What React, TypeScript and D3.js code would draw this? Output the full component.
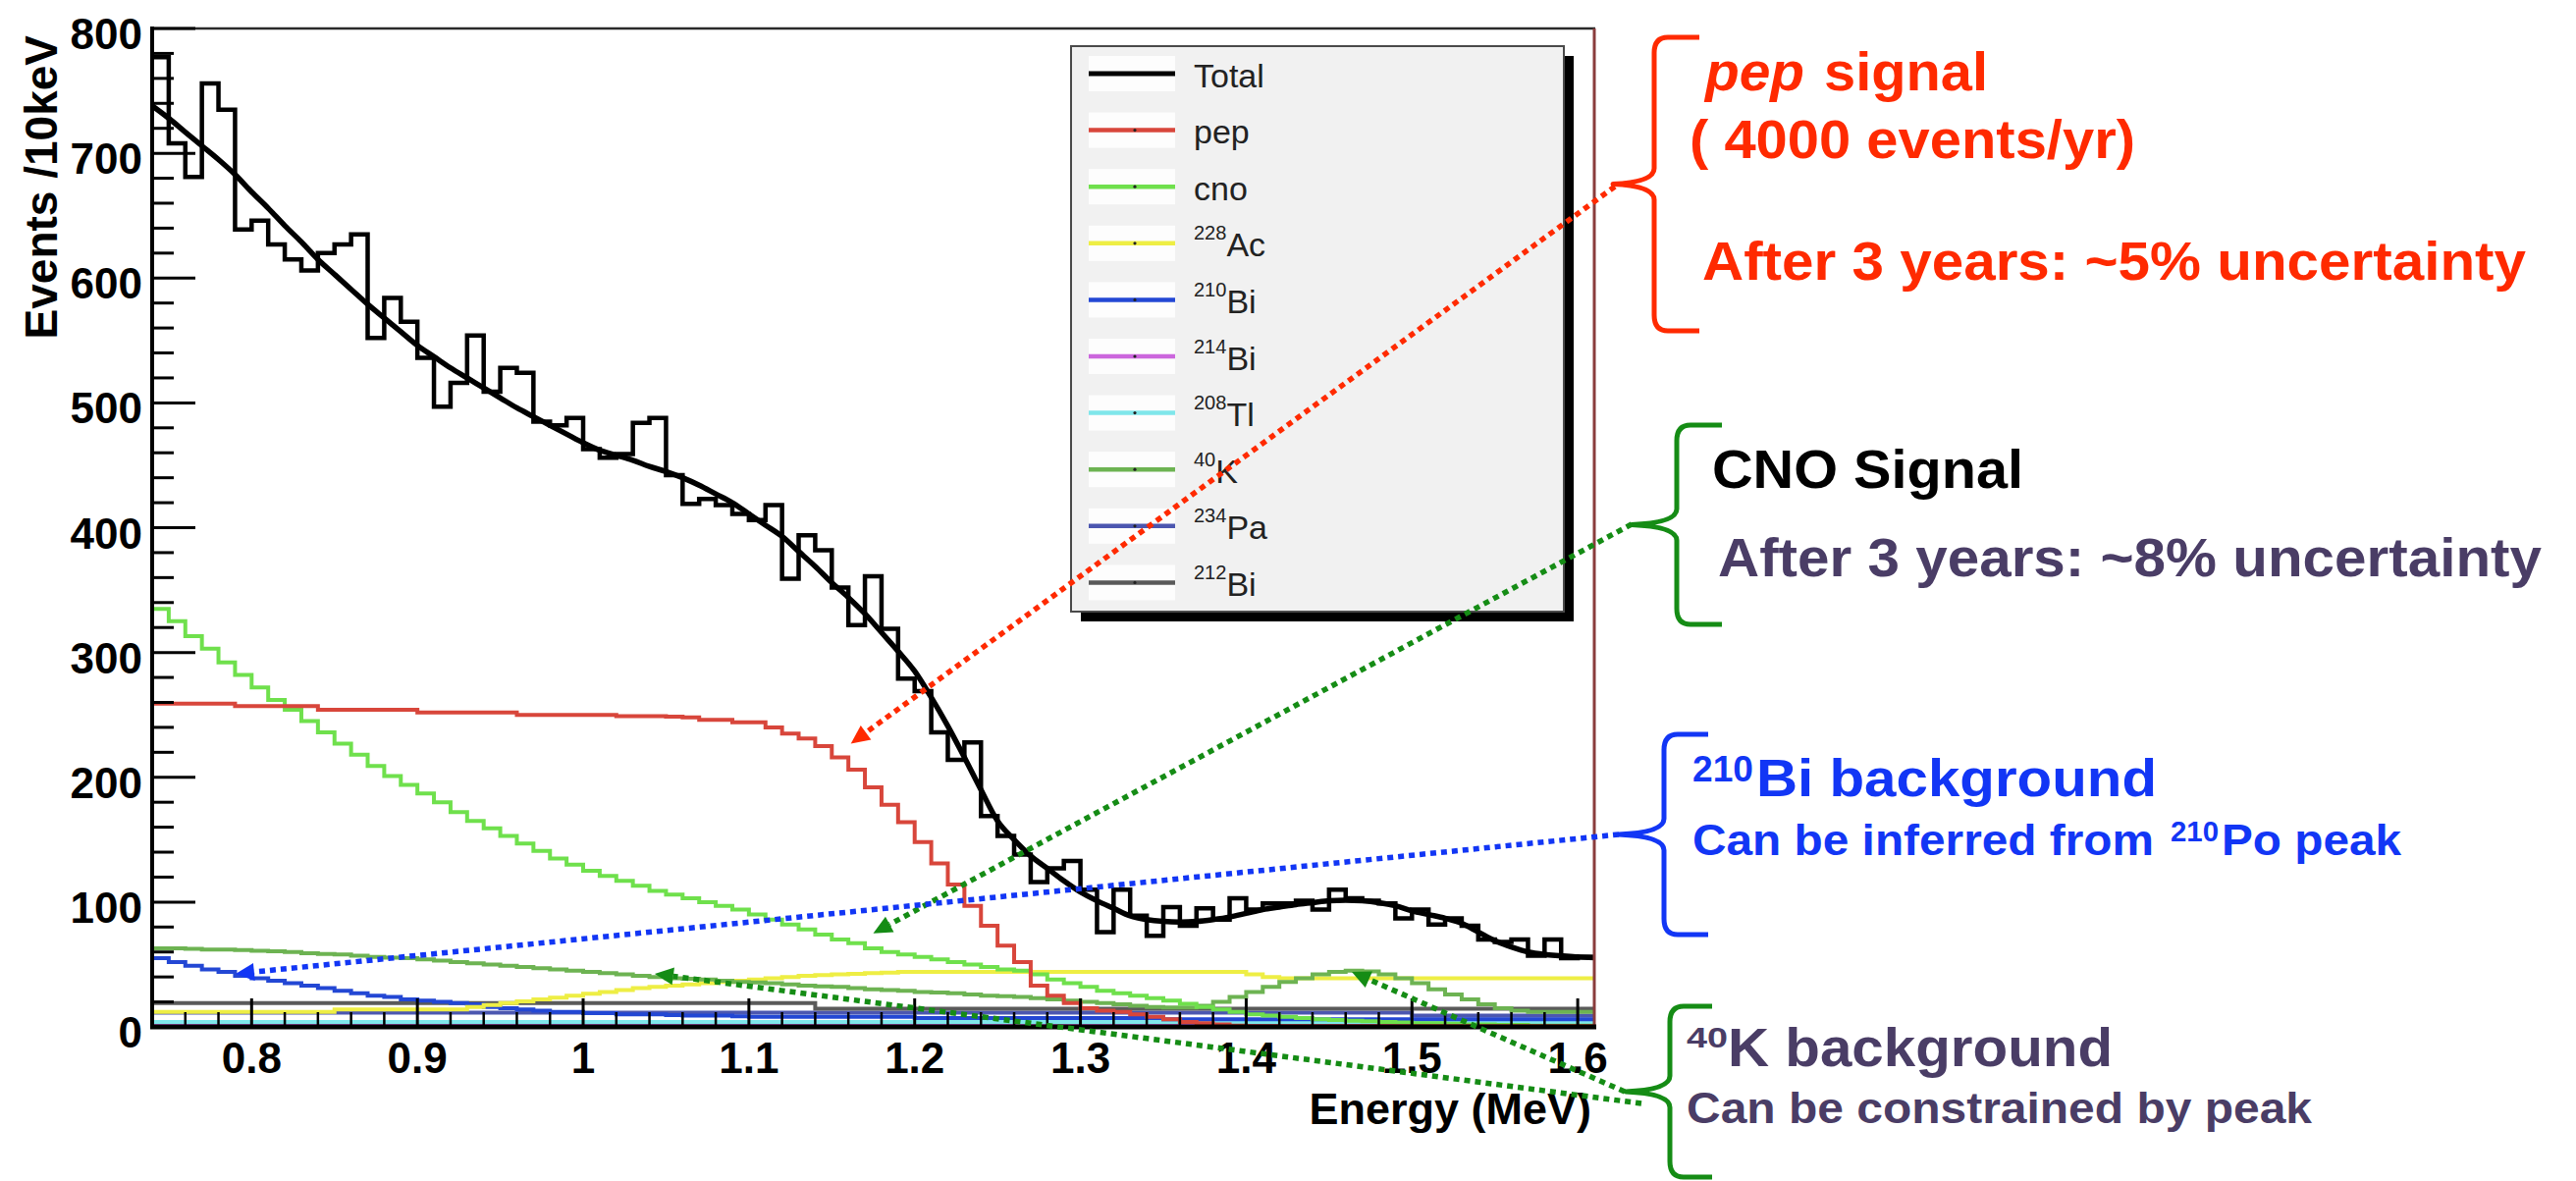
import React from "react";
import * as d3 from "d3";

const FONT = "'Liberation Sans', Arial, Helvetica, sans-serif";
const NARROW = "'Liberation Sans Narrow', 'Liberation Sans', Arial, sans-serif";

// histogram binning: 10 keV bins starting at 0.74 MeV
const BIN_START = 0.74;
const BIN_WIDTH = 0.01;

// simulated data (black histogram), 87 bins
const dataCounts = [
  777, 708, 681, 756, 735, 639, 646, 627, 615, 606,
  620, 627, 635, 552, 584, 565, 536, 497, 516, 554,
  509, 528, 524, 485, 482, 488, 463, 456, 459, 484,
  488, 442, 419, 423, 418, 411, 406, 418, 359, 394,
  382, 352, 322, 361, 319, 279, 269, 236, 214, 228,
  169, 153, 138, 116, 127, 133, 110, 76, 110, 89,
  73, 96, 81, 95, 86, 103, 94, 99, 99, 101,
  94, 110, 103, 101, 99, 87, 94, 82, 87, 81,
  70, 68, 70, 57, 70, 55, 56,
];

// total fit, sampled at 0.74, 0.75, ... 1.61
const totalFit = [
  738, 728, 717, 706, 695, 683, 669, 656, 642, 629,
  615, 603, 591, 579, 568, 557, 546, 537, 528, 520,
  512, 504, 496, 489, 482, 475, 468, 462, 458, 454,
  449, 445, 440, 434, 427, 420, 411, 402, 393, 381,
  369, 356, 344, 331, 316, 301, 285, 264, 241, 216,
  190, 165, 150, 137, 127, 117, 108, 101, 95, 89,
  86, 84.5, 84, 84.5, 86, 88, 91, 94, 96, 98,
  99.5, 101, 101.5, 101, 99.5, 97, 93, 90, 87, 83,
  76, 69, 64, 60, 58, 57, 56, 55.5,
];

const pepBins = [
  259, 259, 259, 259, 259, 257, 257, 257, 257, 257,
  254, 254, 254, 254, 254, 254, 252, 252, 252, 252,
  252, 252, 250, 250, 250, 250, 250, 250, 249, 249,
  249, 248.5, 248, 246, 246, 244, 244, 240, 235, 231,
  225, 216, 206, 192, 178, 164, 148, 131, 114, 97,
  81, 65, 52, 33, 25, 19, 15, 13, 12, 10,
  8, 6, 4, 3, 2, 1, 0.5, 0.5, 0.5, 0.5,
  0.5, 0.5, 0.5, 0.5, 0.5, 0.5, 0.5, 0.5, 0.5, 0.5,
  0.5, 0.5, 0.5, 0.5, 0.5, 0.5, 0.5,
];

const cnoBins = [
  335, 325, 313, 303, 292, 282, 272, 262, 254, 245,
  236, 227, 218, 209, 201, 194, 187, 180, 172, 165,
  159, 153, 147, 141, 135, 130, 125, 121, 117, 113,
  109, 106, 103, 100, 97, 94, 90, 86, 82, 78,
  74, 70, 67, 63, 60, 58, 56, 54, 52, 50,
  48, 46, 45, 42, 38, 35, 32, 29, 27, 25,
  23, 21, 18.5, 16, 14, 12, 10, 9, 8, 7,
  6, 5.5, 5, 4.5, 4, 3.5, 3, 3, 2.5, 2,
  2, 1.5, 1.5, 1, 1, 1, 1,
];

const k40Bins = [
  63, 63, 62.5, 62, 62, 61.5, 61, 60.5, 60, 59,
  58.5, 58, 57, 56, 55.5, 55, 54, 53, 52, 51,
  50, 49, 48, 47, 46, 45, 44, 43, 42, 41,
  40, 39, 38.5, 38, 37, 36, 35.5, 35, 34, 33,
  32.5, 32, 31, 30, 29.5, 29, 28, 27.5, 27, 26,
  25, 24.5, 24, 23, 22, 21, 20, 19, 18, 17,
  16, 15.5, 15.5, 17, 20, 24, 28, 32, 36, 39,
  42, 44, 45, 44.5, 42, 39, 35, 30, 26, 22,
  18, 15, 13, 12, 12, 12, 12,
];

const ac228Bins = [
  12, 12, 12, 12, 12, 12, 12, 12, 12, 12,
  12, 14, 14, 14, 14, 14, 14, 14, 14, 16,
  17.5, 19, 20.5, 22, 23.5, 25, 26.5, 28, 29.5, 31,
  32, 33, 34, 35, 36, 37, 38, 39, 40, 41,
  41.5, 42, 42.5, 43, 43.5, 44, 44, 44, 44, 44,
  44, 44, 44, 44, 44, 44, 44, 44, 44, 44,
  44, 44, 44, 44, 44, 44, 42, 40, 39, 39,
  39, 39, 39, 39, 39, 39, 39, 39, 39, 39,
  39, 39, 39, 39, 39, 39, 39,
];

const bi210Bins = [
  55, 52, 49, 46, 44, 41, 39, 37, 35, 33,
  31, 29, 27, 25, 24, 22, 21, 20, 19, 18,
  16, 15, 14, 13, 12, 12, 11, 11, 10, 10,
  10, 9.5, 9, 9, 9, 8.5, 8, 8, 8, 8,
  8, 8, 8, 8, 8, 8, 7, 7, 7, 7,
  7, 7, 7, 7, 7, 7, 7, 7, 7, 7,
  7, 6, 6, 6, 6, 6, 6, 6, 6, 6,
  6, 6, 6, 6, 6, 6, 6, 6, 6, 6,
  6, 6, 6, 6, 6, 6, 6,
];

const bi214Bins = [
  1, 1, 1, 1, 1, 1, 1, 1, 1, 1,
  1, 1, 1, 1, 1, 1, 1, 1, 1, 1,
  1, 1, 1, 1, 1, 1, 1, 1, 1, 1,
  1, 1, 1, 1, 1, 1, 1, 1, 1, 1,
  1, 1, 1, 1, 1, 1, 1, 1, 1, 1,
  1, 1, 1, 1, 1, 1, 1, 1, 1, 1,
  1, 1, 1, 1, 1, 1, 1, 1, 1, 1,
  1, 1, 1, 1, 1, 1, 1, 1, 1, 1,
  1, 1, 1, 1, 1, 1, 1,
];

const tl208Bins = [
  4, 4, 4, 4, 4, 4, 4, 4, 4, 4,
  4, 4, 4, 4, 4, 4, 4, 4, 4, 4,
  4, 4, 4, 4, 4, 4, 4, 4, 4, 4,
  4, 4, 4, 4, 4, 4, 4, 4, 4, 4,
  4, 4, 4, 4, 4, 4, 4, 4, 4, 4,
  4, 4, 4, 4, 4, 4, 4, 4, 4, 4,
  4, 4, 4, 4, 4, 4, 4, 4, 4, 4,
  4, 4, 4, 4, 4, 4, 4, 4, 4, 4,
  4, 4, 4, 4, 4, 4, 4,
];

const pa234Bins = [
  11.5, 11.5, 11.5, 11.5, 11.5, 11.5, 11.5, 11.5, 11.5, 11.5,
  11.5, 11.5, 11.5, 11.5, 11.5, 11.5, 11.5, 11.5, 11.5, 11.5,
  11.5, 11.5, 11.5, 11.5, 11.5, 11.5, 11.5, 11.5, 11.5, 11.5,
  11.5, 11.5, 11.5, 11.5, 11.5, 11.5, 11.5, 11.5, 11.5, 11.5,
  11.5, 11.5, 11.5, 11.5, 11.5, 11.5, 11.5, 11.5, 11.5, 11.5,
  11.5, 11.5, 11.5, 11.5, 11.5, 11.5, 11.5, 11.5, 11.5, 11.5,
  11.5, 11.5, 11.5, 11.5, 11.5, 11.5, 11.5, 11.5, 11.5, 11.5,
  11.5, 11.5, 11.5, 11.5, 11.5, 11.5, 9, 9, 9, 9,
  9, 9, 9, 9, 9, 9, 9,
];

const bi212Bins = [
  19, 19, 19, 19, 19, 19, 19, 19, 19, 19,
  19, 19, 19, 19, 19, 19, 19, 19, 19, 19,
  19, 19, 19, 19, 19, 19, 19, 19, 19, 19,
  19, 19, 19, 19, 19, 19, 19, 19, 19, 19,
  14.5, 14.5, 14.5, 14.5, 14.5, 14.5, 14.5, 14.5, 14.5, 14.5,
  14.5, 14.5, 14.5, 14.5, 14.5, 14.5, 14.5, 14.5, 14.5, 14.5,
  14.5, 14.5, 14.5, 14.5, 14.5, 14.5, 14.5, 14.5, 14.5, 14.5,
  14.5, 14.5, 14.5, 14.5, 14.5, 14.5, 14.5, 14.5, 14.5, 14.5,
  14.5, 14.5, 14.5, 14.5, 14.5, 14.5, 14.5,
];

const xMajorTicks = [0.8, 0.9, 1.0, 1.1, 1.2, 1.3, 1.4, 1.5, 1.6];
const xTickLabels = ["0.8", "0.9", "1", "1.1", "1.2", "1.3", "1.4", "1.5", "1.6"];
const yMajorTicks = [0, 100, 200, 300, 400, 500, 600, 700, 800];

const legendLabels = ["Total", "pep", "cno", "Ac", "Bi", "Bi", "Tl", "K", "Pa", "Bi"];
const legendSups = ["", "", "", "228", "210", "214", "208", "40", "234", "212"];
const legendColors = [
  "#000000", "#d8463b", "#6fe04c", "#eeee44", "#2347d4",
  "#cc66dd", "#7fe6ea", "#6db352", "#4c57b0", "#5a5a5a",
];

// draw order of the component histograms (bottom first)
const components = [
  { values: bi214Bins, color: "#cc66dd" },
  { values: tl208Bins, color: "#7fe6ea" },
  { values: pa234Bins, color: "#4c57b0" },
  { values: bi212Bins, color: "#5a5a5a" },
  { values: bi210Bins, color: "#2347d4" },
  { values: ac228Bins, color: "#eeee44" },
  { values: k40Bins, color: "#6db352" },
  { values: cnoBins, color: "#6fe04c" },
  { values: pepBins, color: "#d8463b" },
];

const RED = "#ff2a00";
const GREEN = "#158c15";
const BLUE = "#1236f5";
const PURPLE = "#4a3d66";

function Arrow({ x1, y1, x2, y2, color }) {
  const dx = x2 - x1;
  const dy = y2 - y1;
  const len = Math.hypot(dx, dy);
  const ux = dx / len;
  const uy = dy / len;
  const L = 19;
  const Wd = 9;
  const bx = x2 - ux * L;
  const by = y2 - uy * L;
  const head = `M${x2},${y2} L${bx - uy * Wd},${by + ux * Wd} L${bx + uy * Wd},${by - ux * Wd} Z`;
  return (
    <g>
      <line x1={x1} y1={y1} x2={bx} y2={by} stroke={color} strokeWidth={5.5} strokeDasharray="6 5" />
      <path d={head} fill={color} />
    </g>
  );
}

function Bracket({ xv, top, bottom, tipX, serifX, color }) {
  const mid = (top + bottom) / 2;
  const r = 16;
  const d =
    `M${serifX},${top} L${xv + 14},${top} Q${xv},${top} ${xv},${top + r} ` +
    `L${xv},${mid - r} Q${xv},${mid - 2} ${tipX},${mid} Q${xv},${mid + 2} ${xv},${mid + r} ` +
    `L${xv},${bottom - r} Q${xv},${bottom} ${xv + 14},${bottom} L${serifX},${bottom}`;
  return <path d={d} fill="none" stroke={color} strokeWidth={5} strokeLinejoin="round" />;
}

export default function App() {
  const x = d3.scaleLinear().domain([0.74, 1.61]).range([155, 1624]);
  const y = d3.scaleLinear().domain([0, 800]).range([1046, 29]);

  const stepLine = d3
    .line<[number, number]>()
    .x((d) => x(d[0]))
    .y((d) => y(d[1]))
    .curve(d3.curveStepAfter);

  const smoothLine = d3
    .line<[number, number]>()
    .x((d) => x(d[0]))
    .y((d) => y(d[1]))
    .curve(d3.curveMonotoneX);

  const histPoints = (vals: number[]): [number, number][] => {
    const pts: [number, number][] = vals.map((v, i) => [BIN_START + i * BIN_WIDTH, v]);
    pts.push([BIN_START + vals.length * BIN_WIDTH, vals[vals.length - 1]]);
    return pts;
  };

  const totalPoints: [number, number][] = totalFit.map((v, i) => [BIN_START + i * BIN_WIDTH, v]);

  const yMinor = d3.range(0, 801, 20).filter((v) => v % 100 !== 0);
  const xMinor = d3.range(38, 81).map((i) => i * 0.02).filter((v) => v <= 1.61 && Math.abs(v * 10 - Math.round(v * 10)) > 1e-6);

  const legL = 1091, legT = 47, legR = 1593, legB = 623;
  const rowY = (i: number) => 75 + 57.6 * i;

  return (
    <svg
      width={2624}
      height={1203}
      viewBox="0 0 2624 1203"
      style={{ position: "absolute", left: 0, top: 0, display: "block", background: "#ffffff" }}
      fontFamily={FONT}
    >
      <rect x={0} y={0} width={2624} height={1203} fill="#ffffff" />

      {/* components */}
      {components.map((c, i) => (
        <path key={i} d={stepLine(histPoints(c.values)) || ""} fill="none" stroke={c.color} strokeWidth={4} />
      ))}

      {/* data histogram */}
      <path d={stepLine(histPoints(dataCounts)) || ""} fill="none" stroke="#000" strokeWidth={4.5} />
      {/* total fit */}
      <path d={smoothLine(totalPoints) || ""} fill="none" stroke="#000" strokeWidth={5.5} />

      {/* frame */}
      <line x1={155} y1={29} x2={1625} y2={29} stroke="#2a2a2a" strokeWidth={2.5} />
      <line x1={1624} y1={29} x2={1624} y2={1046} stroke="#8a3c3c" strokeWidth={3} />

      {/* y axis */}
      <line x1={155} y1={27} x2={155} y2={1048} stroke="#000" strokeWidth={4} />
      {yMajorTicks.map((v) => (
        <g key={"ym" + v}>
          <line x1={155} x2={199} y1={y(v)} y2={y(v)} stroke="#000" strokeWidth={3} />
          <text x={145} y={y(v) + 21} textAnchor="end" fontSize={44} fontWeight="bold" fill="#000">
            {v}
          </text>
        </g>
      ))}
      {yMinor.map((v) => (
        <line key={"yn" + v} x1={155} x2={177} y1={y(v)} y2={y(v)} stroke="#000" strokeWidth={3} />
      ))}
      <text
        transform="translate(58,36) rotate(-90)"
        textAnchor="end"
        fontSize={46}
        fontWeight="bold"
        fill="#000"
      >
        Events /10keV
      </text>

      {/* x axis */}
      <line x1={153} y1={1046} x2={1626} y2={1046} stroke="#000" strokeWidth={5} />
      {xMajorTicks.map((v, i) => (
        <g key={"xm" + v}>
          <line x1={x(v)} x2={x(v)} y1={1046} y2={1017} stroke="#000" strokeWidth={3} />
          <text x={x(v)} y={1093} textAnchor="middle" fontSize={44} fontWeight="bold" fill="#000">
            {xTickLabels[i]}
          </text>
        </g>
      ))}
      {xMinor.map((v) => (
        <line key={"xn" + v.toFixed(2)} x1={x(v)} x2={x(v)} y1={1046} y2={1031} stroke="#000" strokeWidth={2.5} />
      ))}
      <text x={1621} y={1145} textAnchor="end" fontSize={45} fontWeight="bold" fill="#000">
        Energy (MeV)
      </text>

      {/* legend */}
      <rect x={legL + 10} y={legT + 10} width={legR - legL} height={legB - legT} fill="#000" />
      <rect x={legL} y={legT} width={legR - legL} height={legB - legT} fill="#f1f1f1" stroke="#4a4a4a" strokeWidth={2} />
      {legendLabels.map((lab, i) => {
        const ry = rowY(i);
        return (
          <g key={"leg" + i}>
            <rect x={1109} y={ry - 18} width={88} height={36} fill="#ffffff" opacity={0.85} />
            <line x1={1109} x2={1197} y1={ry} y2={ry} stroke={legendColors[i]} strokeWidth={i === 0 ? 5 : 4.5} />
            {i > 0 && <circle cx={1156} cy={ry} r={1.6} fill="#222" />}
            <text x={1216} y={ry + 13.5} fontSize={34} fill="#222">
              {legendSups[i] ? (
                <>
                  <tspan fontSize={20} dy={-17}>{legendSups[i]}</tspan>
                  <tspan dy={17}>{lab}</tspan>
                </>
              ) : (
                lab
              )}
            </text>
          </g>
        );
      })}

      {/* brackets */}
      <Bracket xv={1685} top={38} bottom={337} tipX={1643} serifX={1731} color={RED} />
      <Bracket xv={1708} top={433} bottom={636} tipX={1662} serifX={1754} color={GREEN} />
      <Bracket xv={1695} top={748} bottom={952} tipX={1649} serifX={1740} color={BLUE} />
      <Bracket xv={1701} top={1025} bottom={1199} tipX={1656} serifX={1744} color={GREEN} />

      {/* annotation texts */}
      <g fontFamily={NARROW} fontWeight="bold">
        <text x={1737} y={92} fontSize={55} fontStyle="italic" fill={RED} textLength={101} lengthAdjust="spacingAndGlyphs">pep</text>
        <text x={1858} y={92} fontSize={55} fill={RED} textLength={167} lengthAdjust="spacingAndGlyphs">signal</text>
        <text x={1721} y={161} fontSize={55} fill={RED} textLength={454} lengthAdjust="spacingAndGlyphs">( 4000 events/yr)</text>
        <text x={1734} y={285} fontSize={55} fill={RED} textLength={839} lengthAdjust="spacingAndGlyphs">After 3 years: ~5% uncertainty</text>

        <text x={1744} y={497} fontSize={55} fill="#000" textLength={317} lengthAdjust="spacingAndGlyphs">CNO Signal</text>
        <text x={1750} y={587} fontSize={55} fill={PURPLE} textLength={839} lengthAdjust="spacingAndGlyphs">After 3 years: ~8% uncertainty</text>

        <text x={1724} y={796} fontSize={37} fill={BLUE} textLength={62} lengthAdjust="spacingAndGlyphs">210</text>
        <text x={1789} y={811} fontSize={53} fill={BLUE} textLength={408} lengthAdjust="spacingAndGlyphs">Bi background</text>
        <text x={1724} y={871} fontSize={44} fill={BLUE} textLength={470} lengthAdjust="spacingAndGlyphs">Can be inferred from</text>
        <text x={2211} y={857} fontSize={29} fill={BLUE} textLength={49} lengthAdjust="spacingAndGlyphs">210</text>
        <text x={2263} y={871} fontSize={44} fill={BLUE} textLength={183} lengthAdjust="spacingAndGlyphs">Po peak</text>

        <text x={1718} y={1067} fontSize={29} fill={PURPLE} textLength={42} lengthAdjust="spacingAndGlyphs">40</text>
        <text x={1760} y={1086} fontSize={55} fill={PURPLE} textLength={392} lengthAdjust="spacingAndGlyphs">K background</text>
        <text x={1718} y={1144} fontSize={44} fill={PURPLE} textLength={637} lengthAdjust="spacingAndGlyphs">Can be constrained by peak</text>
      </g>

      {/* dotted arrows */}
      <Arrow x1={1645} y1={190} x2={x(1.1615)} y2={y(227)} color={RED} />
      <Arrow x1={1662} y1={534} x2={x(1.175)} y2={y(75)} color={GREEN} />
      <Arrow x1={1649} y1={850} x2={x(0.7903)} y2={y(42.5)} color={BLUE} />
      <Arrow x1={1672} y1={1124} x2={x(1.0432)} y2={y(42.5)} color={GREEN} />
      <Arrow x1={1655} y1={1112} x2={x(1.4637)} y2={y(44)} color={GREEN} />
    </svg>
  );
}
